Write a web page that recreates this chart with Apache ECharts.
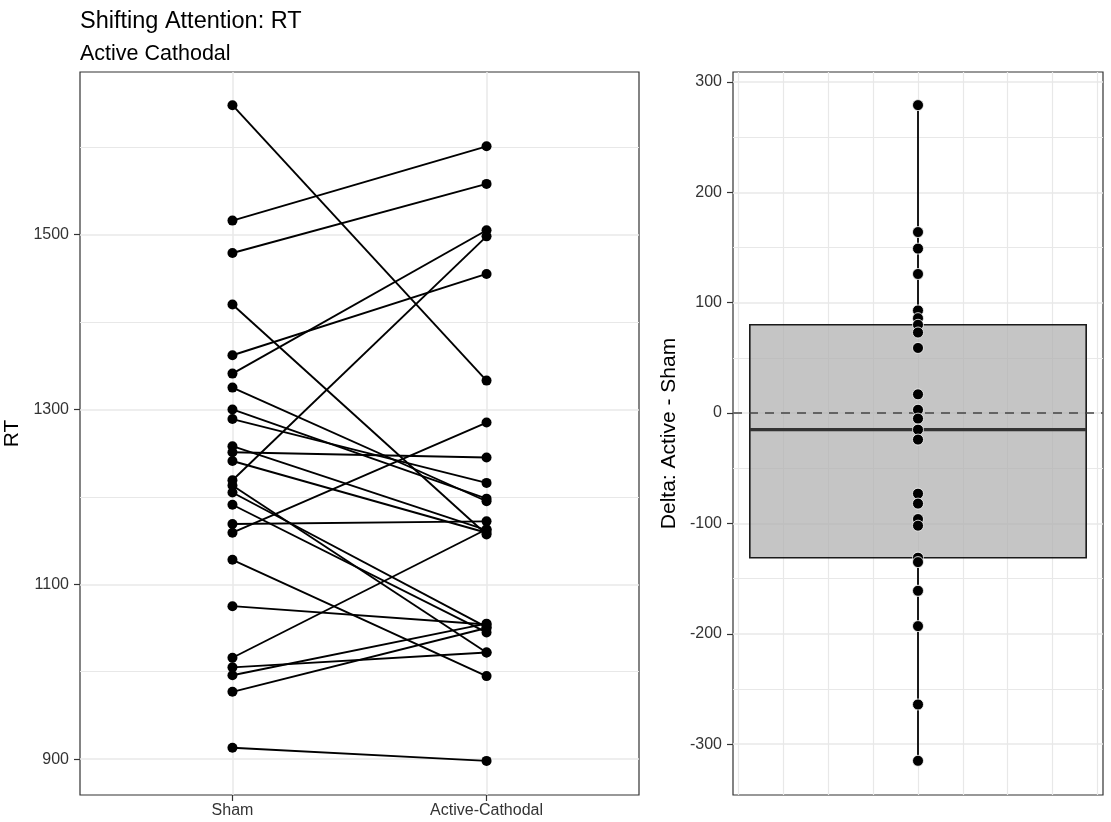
<!DOCTYPE html>
<html>
<head>
<meta charset="utf-8">
<title>Shifting Attention: RT</title>
<script src="https://cdn.jsdelivr.net/npm/echarts@6/dist/echarts.min.js"></script>
<style>
    html, body { margin: 0; padding: 0; background: #fff; }
    #chart { width: 1111px; height: 822px; }
</style>
</head>
<body>
<div id="chart"></div>
<script>
    // conditions on the left panel
    var conditions = ['Sham', 'Active-Cathodal'];
    // RT per subject (same order in both arrays)
    var shamRT   = [1648, 1516, 1479, 1420, 1362, 1341, 1325, 1300, 1289, 1258, 1251, 1241, 1219,
                    1213, 1205, 1191, 1169, 1159, 1128, 1075, 1016, 1005, 996, 977, 913];
    var activeRT = [1333, 1601, 1558, 1157, 1455, 1505, 1195, 1198, 1216, 1162, 1245, 1159, 1498,
                    1022, 1051, 1045, 1172, 1285, 995, 1054, 1163, 1022, 1055, 1050, 898];
    // differences
    var deltaRT  = [279, 164, 149, 126, 93, 86, 80, 73, 59, 17, 3, -5, -15, -24,
                    -73, -82, -96, -102, -131, -135, -161, -161, -193, -264, -315];
    // tick labels / gridlines
    var rtTicks    = [900, 1100, 1300, 1500];
    var rtMinor    = [1000, 1200, 1400, 1600];
    var deltaTicks = [-300, -200, -100, 0, 100, 200, 300];
    var deltaMinor = [-250, -150, -50, 50, 150, 250];
    var boxXGrid   = [-0.4, -0.3, -0.2, -0.1, 0, 0.1, 0.2, 0.3, 0.4];

    var FONT = '"Liberation Sans", Arial, sans-serif';

    // type 7 quantile, like R
    function quantile(arr, p) {
        var s = arr.slice().sort(function (a, b) { return a - b; });
        var h = (s.length - 1) * p, lo = Math.floor(h);
        var hi = Math.min(lo + 1, s.length - 1);
        return s[lo] + (h - lo) * (s[hi] - s[lo]);
    }
    var q1 = quantile(deltaRT, 0.25), med = quantile(deltaRT, 0.5), q3 = quantile(deltaRT, 0.75);
    var iqr = q3 - q1;
    var whiskLo = Math.min.apply(null, deltaRT.filter(function (v) { return v >= q1 - 1.5 * iqr; }));
    var whiskHi = Math.max.apply(null, deltaRT.filter(function (v) { return v <= q3 + 1.5 * iqr; }));

    function gridLines(axis, values, width) {
        return values.map(function (v) {
            var o = { lineStyle: { width: width } };
            o[axis] = v;
            return o;
        });
    }

    function gridSeries(xi, yi, data) {
        return {
            type: 'line', xAxisIndex: xi, yAxisIndex: yi, data: [], silent: true, z: 0,
            markLine: {
                silent: true, z: 0, symbol: ['none', 'none'], animation: false,
                label: { show: false },
                lineStyle: { color: '#E8E8E8', type: 'solid', width: 1.4 },
                emphasis: { disabled: true },
                data: data
            }
        };
    }

    var yLabelStyle = { color: '#333', fontSize: 16, fontFamily: FONT, margin: 11 };
    var xLabelStyle = { color: '#333', fontSize: 16, fontFamily: FONT, margin: 8 };

    var series = [];
    series.push(gridSeries(0, 0, gridLines('yAxis', rtTicks, 1.5)
        .concat(gridLines('yAxis', rtMinor, 1.1))
        .concat(gridLines('xAxis', [1, 2], 1.5))));
    series.push(gridSeries(1, 1, gridLines('yAxis', deltaTicks, 1.5)
        .concat(gridLines('yAxis', deltaMinor, 1.1))
        .concat(gridLines('xAxis', boxXGrid, 1.2))));

    // one line per subject
    for (var i = 0; i < shamRT.length; i++) {
        series.push({
            type: 'line', xAxisIndex: 0, yAxisIndex: 0, z: 3,
            data: [[1, shamRT[i]], [2, activeRT[i]]],
            symbol: 'circle', symbolSize: 10, showSymbol: true,
            itemStyle: { color: '#000' },
            lineStyle: { color: '#000', width: 1.9 },
            silent: true, animation: false
        });
    }

    // boxplot drawn by hand
    series.push({
        type: 'custom', xAxisIndex: 1, yAxisIndex: 1, z: 2, silent: true, animation: false,
        data: [[0, q1, med, q3, whiskLo, whiskHi]],
        renderItem: function (params, api) {
            var tl = api.coord([-0.375, api.value(3)]);
            var br = api.coord([0.375, api.value(1)]);
            var top = api.coord([0, api.value(5)]);
            var bot = api.coord([0, api.value(4)]);
            return {
                type: 'group',
                children: [
                    { type: 'line', shape: { x1: top[0], y1: top[1], x2: top[0], y2: tl[1] },
                      style: { stroke: '#1a1a1a', lineWidth: 2 } },
                    { type: 'line', shape: { x1: bot[0], y1: br[1], x2: bot[0], y2: bot[1] },
                      style: { stroke: '#1a1a1a', lineWidth: 2 } },
                    { type: 'rect', shape: { x: tl[0], y: tl[1], width: br[0] - tl[0], height: br[1] - tl[1] },
                      style: { fill: 'rgba(175,175,175,0.72)', stroke: '#1a1a1a', lineWidth: 1.6 } }
                ]
            };
        }
    });
    // zero reference line
    series.push({
        type: 'line', xAxisIndex: 1, yAxisIndex: 1, data: [], z: 3, silent: true,
        markLine: {
            silent: true, z: 3, symbol: ['none', 'none'], animation: false,
            label: { show: false },
            lineStyle: { color: '#444', type: [9, 7], width: 1.5 },
            data: [{ yAxis: 0 }]
        }
    });
    // median
    series.push({
        type: 'custom', xAxisIndex: 1, yAxisIndex: 1, z: 4, silent: true, animation: false,
        data: [[0, med]],
        renderItem: function (params, api) {
            var a = api.coord([-0.375, api.value(1)]);
            var b = api.coord([0.375, api.value(1)]);
            return { type: 'line', shape: { x1: a[0], y1: a[1], x2: b[0], y2: b[1] },
                     style: { stroke: '#333', lineWidth: 3.2 } };
        }
    });
    // individual deltas
    series.push({
        type: 'scatter', xAxisIndex: 1, yAxisIndex: 1, z: 5, silent: true, animation: false,
        data: deltaRT.map(function (d) { return [0, d]; }),
        symbolSize: 11,
        itemStyle: { color: '#000', borderColor: '#fff', borderWidth: 0.8, opacity: 1 }
    });

    function plain(v) { return String(v); }

    var chart = echarts.init(document.getElementById('chart'), null, { renderer: 'canvas' });
    chart.setOption({
        backgroundColor: '#fff',
        animation: false,
        title: [
            { text: 'Shifting Attention: RT', left: 75, top: 5,
              textStyle: { fontFamily: FONT, fontWeight: 'normal', fontSize: 23.5, color: '#000' } },
            { text: 'Active Cathodal', left: 75, top: 38,
              textStyle: { fontFamily: FONT, fontWeight: 'normal', fontSize: 21.5, color: '#000' } }
        ],
        grid: [
            { left: 80, top: 72, width: 559, height: 723, show: true, borderColor: '#333', borderWidth: 1.2,
              containLabel: false, outerBoundsMode: 'none' },
            { left: 733, top: 72, width: 370, height: 723, show: true, borderColor: '#333', borderWidth: 1.2,
              containLabel: false, outerBoundsMode: 'none' }
        ],
        xAxis: [
            { type: 'value', gridIndex: 0, min: 0.4, max: 2.6,
              axisLine: { show: false, onZero: false }, splitLine: { show: false },
              axisTick: { show: true, length: 6, customValues: [1, 2], lineStyle: { color: '#333', width: 1.2 } },
              axisLabel: Object.assign({ customValues: [1, 2], formatter: function (v) { return conditions[Math.round(v) - 1]; } }, xLabelStyle) },
            { type: 'value', gridIndex: 1, min: -0.4125, max: 0.4125,
              axisLine: { show: false, onZero: false }, splitLine: { show: false },
              axisTick: { show: false }, axisLabel: { show: false } }
        ],
        yAxis: [
            { type: 'value', gridIndex: 0, min: 859, max: 1686,
              name: 'RT', nameLocation: 'middle', nameRotate: 90, nameGap: 54,
              nameTextStyle: { fontFamily: FONT, fontSize: 21, color: '#000' },
              axisLine: { show: false, onZero: false }, splitLine: { show: false },
              axisTick: { show: true, length: 6, customValues: rtTicks, lineStyle: { color: '#333', width: 1.2 } },
              axisLabel: Object.assign({ customValues: rtTicks, formatter: plain }, yLabelStyle) },
            { type: 'value', gridIndex: 1, min: -346, max: 309,
              name: 'Delta: Active - Sham', nameLocation: 'middle', nameRotate: 90, nameGap: 53,
              nameTextStyle: { fontFamily: FONT, fontSize: 21, color: '#000' },
              axisLine: { show: false, onZero: false }, splitLine: { show: false },
              axisTick: { show: true, length: 6, customValues: deltaTicks, lineStyle: { color: '#333', width: 1.2 } },
              axisLabel: Object.assign({ customValues: deltaTicks, formatter: plain }, yLabelStyle) }
        ],
        series: series
    });
</script>
</body>
</html>
